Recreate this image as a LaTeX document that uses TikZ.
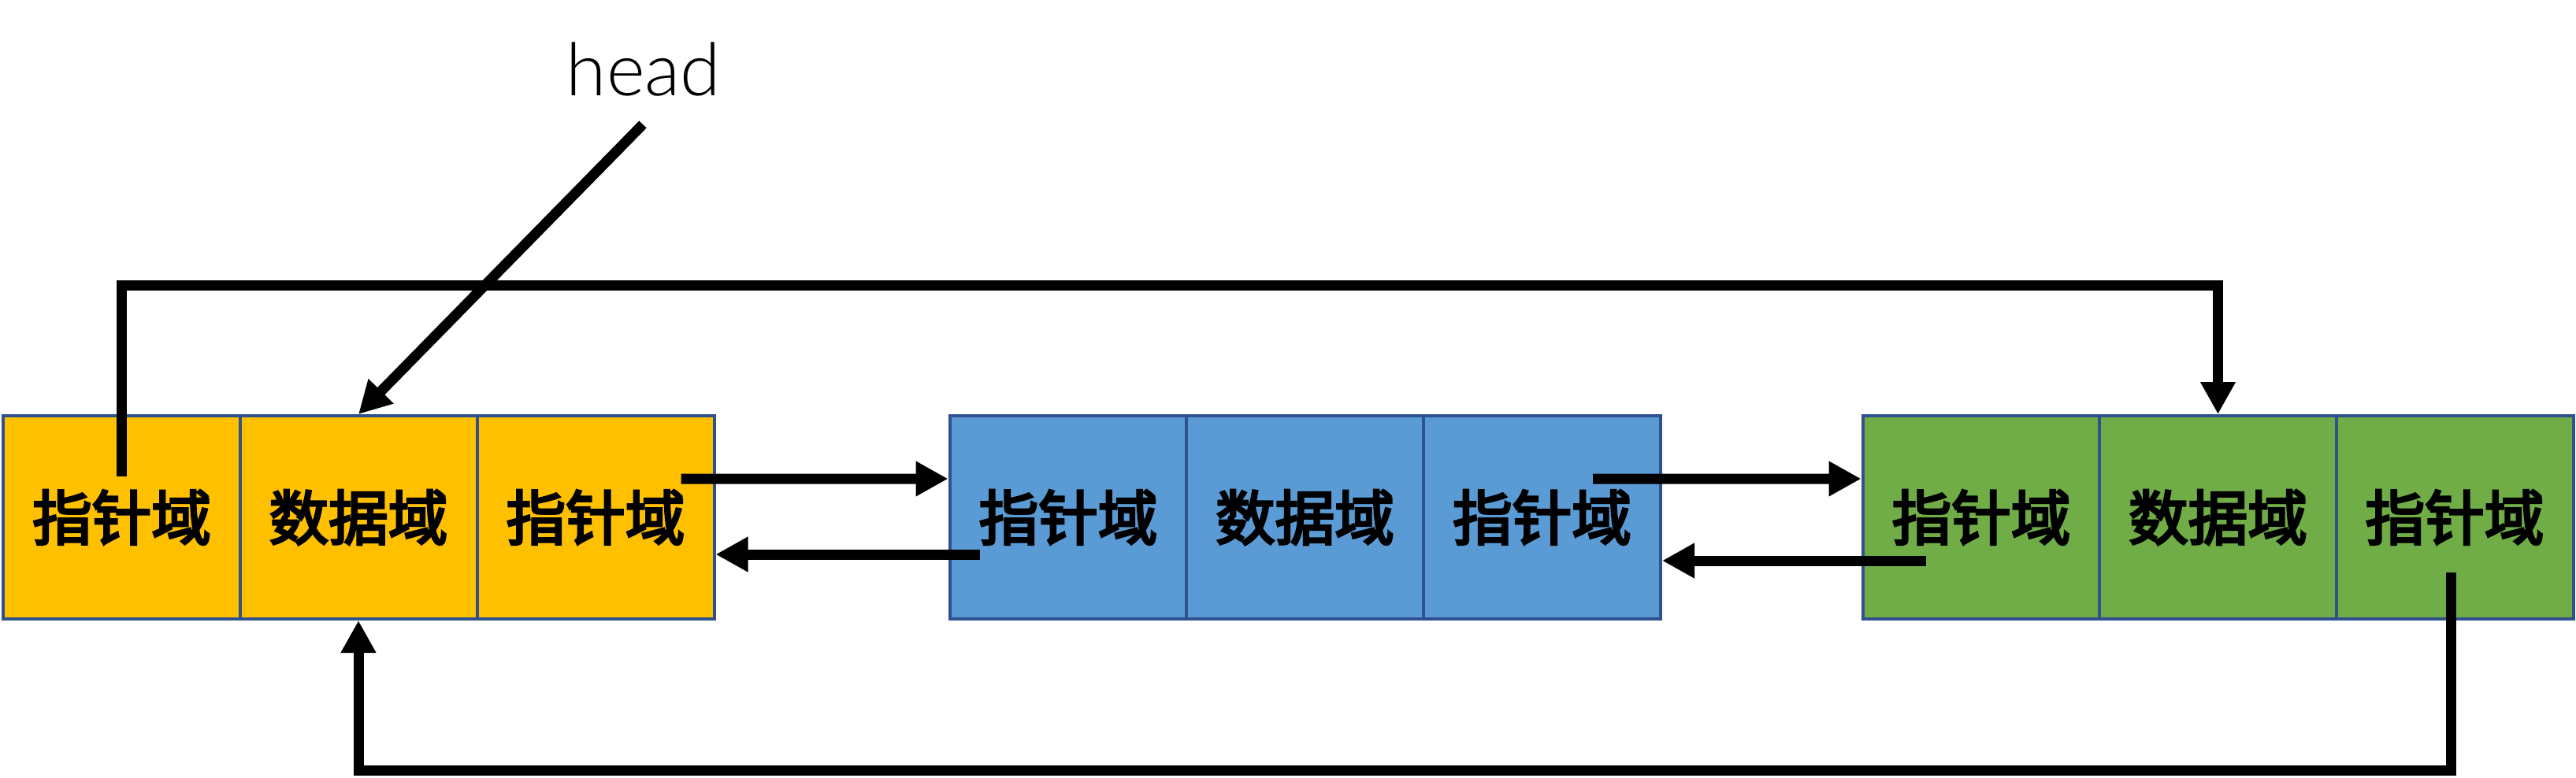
\documentclass[tikz,border=0pt]{standalone}
\usepackage{fontspec}
\newfontfamily\cjk[FakeBold=4]{Noto Sans CJK SC}
\newfontfamily\headfont{Lato Light}
\usetikzlibrary{arrows.meta,calc}
\definecolor{cellborder}{HTML}{2F528F}
\definecolor{ylw}{HTML}{FFC000}
\definecolor{blu}{HTML}{5B9BD5}
\definecolor{grn}{HTML}{70AD47}
\begin{document}
\begin{tikzpicture}[
  cell/.style={draw=cellborder, line width=0.04cm, minimum width=3.01cm, minimum height=2.58cm, inner sep=0pt,
    font=\cjk\fontsize{21.5pt}{21.5pt}\selectfont},
  link/.style={line width=0.13cm, -{Triangle[length=0.41cm,width=0.42cm]}}]
\useasboundingbox (0,0) rectangle (32.7,-9.87);
% first node (yellow)
\node[cell, fill=ylw] (y1) at (1.545,-6.57) {指针域};
\node[cell, fill=ylw] (y2) at (4.55,-6.57) {数据域};
\node[cell, fill=ylw] (y3) at (7.56,-6.57) {指针域};
% second node (blue)
\node[cell, fill=blu] (b1) at (13.56,-6.57) {指针域};
\node[cell, fill=blu] (b2) at (16.565,-6.57) {数据域};
\node[cell, fill=blu] (b3) at (19.575,-6.57) {指针域};
% third node (green)
\node[cell, fill=grn] (g1) at (25.15,-6.57) {指针域};
\node[cell, fill=grn] (g2) at (28.155,-6.57) {数据域};
\node[cell, fill=grn] (g3) at (31.16,-6.57) {指针域};
% head label
\node[font=\headfont\fontsize{26.5pt}{26.5pt}\selectfont, anchor=base, inner sep=0pt] (head) at (8.17,-1.21) {head};
\coordinate (hs) at (8.16,-1.58);
\coordinate (topy) at (0,-3.62);
\coordinate (boty) at (0,-9.78);
% connectors
\draw[link] (hs) -- (y2.north);
\draw[link] ([yshift=0.52cm]y1.center) |- (topy -| g2.north) -- (g2.north);
\draw[link] ([shift={(-0.05,-0.70)}]g3.center) |- (boty -| y2.south) -- (y2.south);
\draw[link] ([shift={(-0.44,0.49)}]y3.east) -- ([yshift=0.49cm]b1.west);
\draw[link] ([shift={(0.40,-0.47)}]b1.west) -- ([yshift=-0.47cm]y3.east);
\draw[link] ([shift={(-0.88,0.49)}]b3.east) -- ([yshift=0.49cm]g1.west);
\draw[link] ([shift={(0.82,-0.55)}]g1.west) -- ([yshift=-0.55cm]b3.east);
\end{tikzpicture}
\end{document}
